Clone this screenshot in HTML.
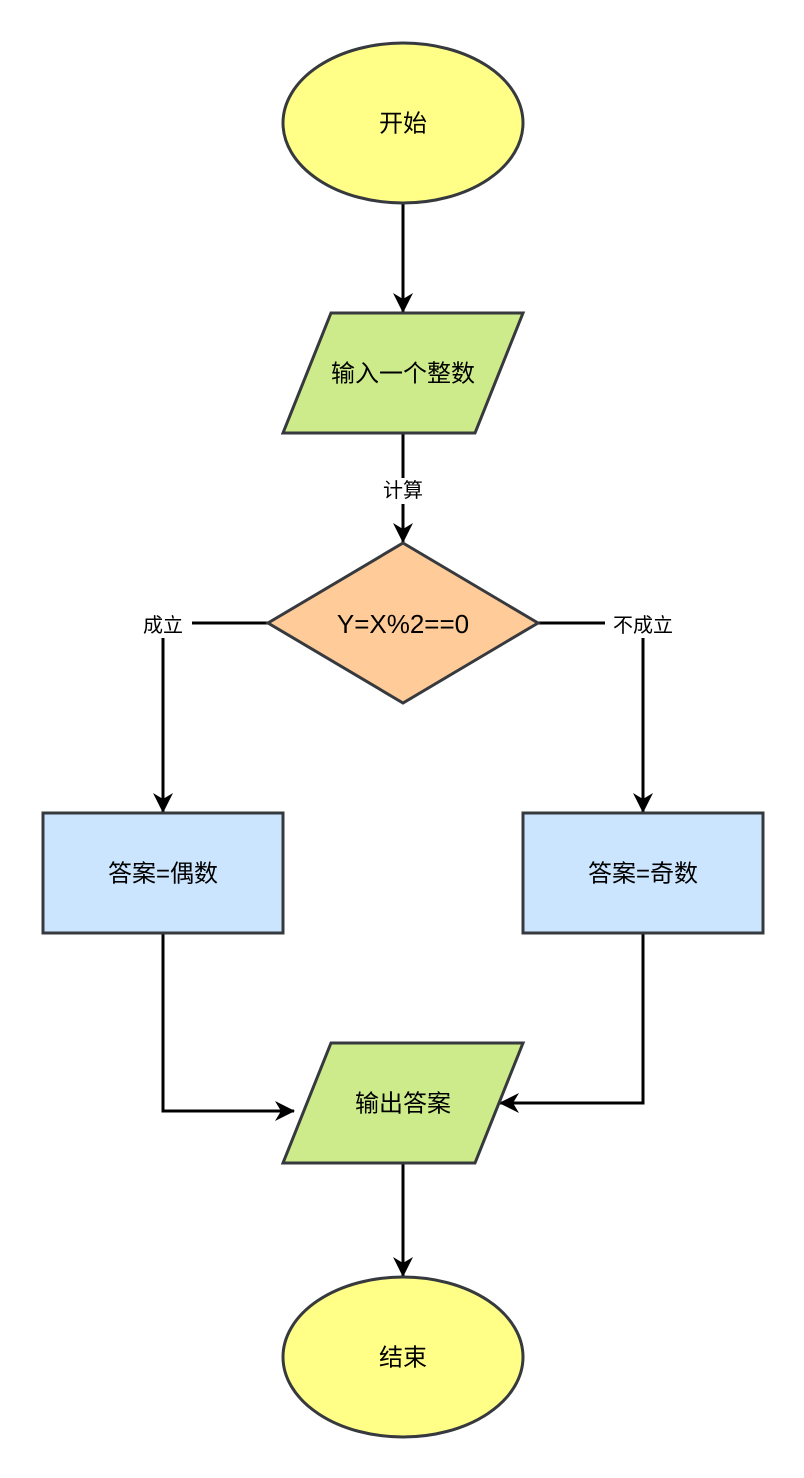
<!DOCTYPE html>
<html><head><meta charset="utf-8"><style>
html,body{margin:0;padding:0;background:#fff;}
svg{display:block;}
text{font-family:"Liberation Sans","Noto Sans CJK SC",sans-serif;fill:#000;}
</style></head><body>
<svg width="804" height="1478" viewBox="0 0 804 1478" xmlns="http://www.w3.org/2000/svg">
<defs>
<marker id="a" viewBox="0 0 20 20" refX="19" refY="10" markerWidth="20" markerHeight="20" markerUnits="userSpaceOnUse" orient="auto">
<path d="M0,0 L20,10 L0,20 L6,10 Z" fill="#000"/>
</marker>
</defs>
<g stroke="#000" stroke-width="3" fill="none">
<line x1="403" y1="203" x2="403" y2="312" marker-end="url(#a)"/>
<line x1="403" y1="433" x2="403" y2="542" marker-end="url(#a)"/>
<polyline points="268,623 163,623 163,812" marker-end="url(#a)"/>
<polyline points="538,623 643,623 643,812" marker-end="url(#a)"/>
<polyline points="163,933 163,1111 294,1111" marker-end="url(#a)"/>
<polyline points="643,933 643,1103 500,1103" marker-end="url(#a)"/>
<line x1="403" y1="1163" x2="403" y2="1276" marker-end="url(#a)"/>
</g>
<g stroke="#36393d" stroke-width="3">
<ellipse cx="403" cy="123" rx="120" ry="80" fill="#ffff88"/>
<polygon points="331,313 523,313 475,433 283,433" fill="#cdeb8b"/>
<polygon points="403,543 538,623 403,703 268,623" fill="#ffcc99"/>
<rect x="43" y="813" width="240" height="120" fill="#cce5ff"/>
<rect x="523" y="813" width="240" height="120" fill="#cce5ff"/>
<polygon points="331,1043 523,1043 475,1163 283,1163" fill="#cdeb8b"/>
<ellipse cx="403" cy="1357" rx="120" ry="80" fill="#ffff88"/>
</g>
<rect x="376" y="478" width="54" height="26" fill="#fff"/>
<rect x="134" y="612" width="58" height="26" fill="#fff"/>
<rect x="605" y="612" width="76" height="26" fill="#fff"/>
<g text-anchor="middle" dominant-baseline="central">
<text x="403" y="124" font-size="24">开始</text>
<text x="403" y="374" font-size="24">输入一个整数</text>
<text x="403" y="491" font-size="20">计算</text>
<text x="403" y="624" font-size="26">Y=X%2==0</text>
<text x="163" y="626" font-size="20">成立</text>
<text x="643" y="626" font-size="20">不成立</text>
<text x="163" y="874" font-size="24">答案=偶数</text>
<text x="643" y="874" font-size="24">答案=奇数</text>
<text x="403" y="1104" font-size="24">输出答案</text>
<text x="403" y="1358" font-size="24">结束</text>
</g>
</svg>
</body></html>
